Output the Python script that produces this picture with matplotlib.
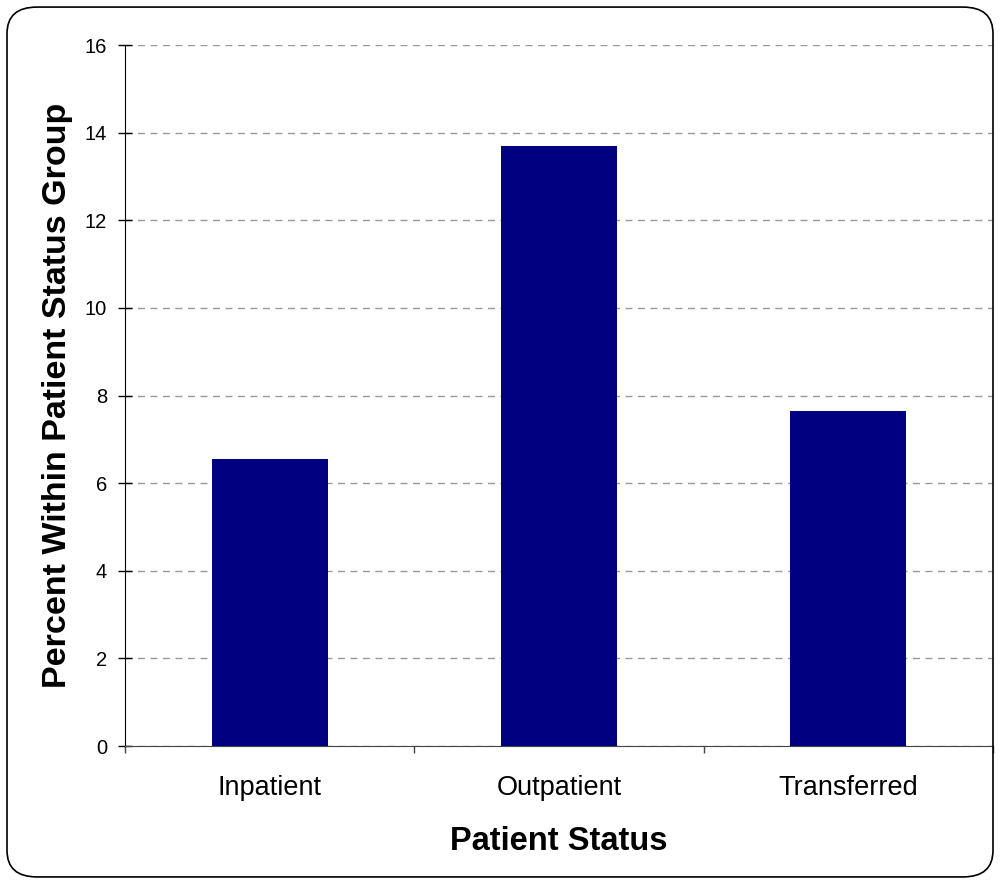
import matplotlib
matplotlib.use("Agg")
import matplotlib.pyplot as plt
from matplotlib.patches import FancyBboxPatch

plt.rcParams["font.family"] = ["Liberation Sans", "DejaVu Sans"]

categories = ["Inpatient", "Outpatient", "Transferred"]
percents = [6.55, 13.70, 7.64]
y_ticks = [0, 2, 4, 6, 8, 10, 12, 14, 16]

NAVY = "#000080"

fig = plt.figure(figsize=(10, 8.84), dpi=100)
ax = fig.add_axes([0.125, 0.156, 0.868, 0.793])

x = list(range(len(categories)))
ax.bar(x, percents, width=0.4, color=NAVY, zorder=3)

ax.set_xlim(-0.5, len(categories) - 0.5)
ax.set_ylim(0, 16)
ax.set_yticks(y_ticks)
ax.yaxis.grid(True, color="#999999", linestyle=(0, (5, 4)), linewidth=1, zorder=0)

# category labels between boundary ticks, like a spreadsheet chart
ax.set_xticks([-0.5, 0.5, 1.5, 2.5])
ax.set_xticklabels([])
ax.set_xticks(x, minor=True)
ax.set_xticklabels(categories, minor=True, fontsize=19.5)
ax.tick_params(axis="x", which="minor", length=0, pad=21)
ax.tick_params(axis="x", which="major", length=5, width=1, color="#444444")
ax.tick_params(axis="y", direction="inout", length=10, width=1,
               labelsize=14.5, pad=8)

for s in ["top", "right"]:
    ax.spines[s].set_visible(False)
ax.spines["left"].set_color("black")
ax.spines["bottom"].set_color("#444444")

ax.set_xlabel("Patient Status", fontsize=23.5, fontweight="bold", labelpad=18)
ax.set_ylabel("Percent Within Patient Status Group", fontsize=24.5,
              fontweight="bold", labelpad=8)

border = FancyBboxPatch((0.007, 0.008), 0.986, 0.984,
                        boxstyle="round,pad=0,rounding_size=0.03",
                        transform=fig.transFigure, fill=False,
                        edgecolor="black", linewidth=1.2)
fig.patches.append(border)

fig.savefig("out.png", dpi=100)
